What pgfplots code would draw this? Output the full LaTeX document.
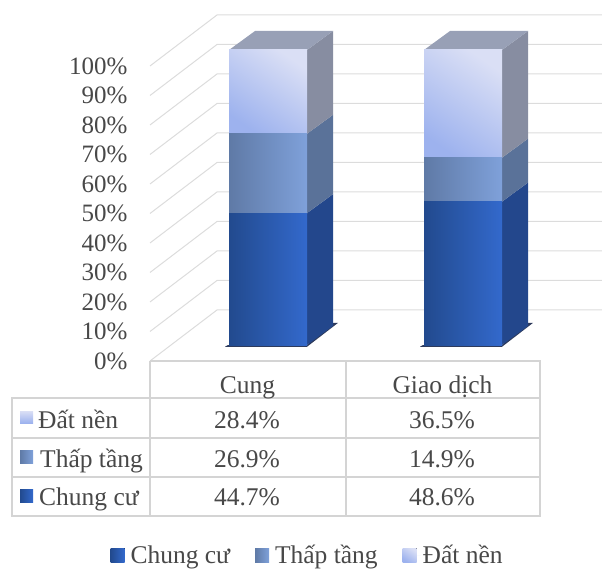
\documentclass[border=0pt]{standalone}
\usepackage{fontspec}
\setmainfont{Liberation Serif}
\usepackage{pgfplots}
\pgfplotsset{compat=1.18}

\definecolor{gridc}{HTML}{DCDCDC}
\definecolor{tabc}{HTML}{D4D4D4}
\definecolor{txt}{HTML}{484848}
\definecolor{shadow}{HTML}{2E3B5C}
\definecolor{chungL}{HTML}{224A8E}
\definecolor{chungR}{HTML}{3369CC}
\definecolor{chungS}{HTML}{23478C}
\definecolor{thapL}{HTML}{5F7AA6}
\definecolor{thapR}{HTML}{7FA1DA}
\definecolor{thapS}{HTML}{5A7299}
\definecolor{datB}{HTML}{9DB2EE}
\definecolor{datT}{HTML}{DADFF5}
\definecolor{datS}{HTML}{878DA1}
\definecolor{datTop}{HTML}{98A0B6}

\newcommand{\tabfont}{\fontsize{25.5}{28}\selectfont}

\pgfplotsset{
  page axis/.style={
    at={(0,0)}, anchor=south west,
    scale only axis, width=602pt, height=570pt,
    xmin=0, xmax=602, clip=false,
    axis line style={draw=none}, xtick=\empty, ytick=\empty,
    major tick length=0pt,
  },
  bar axis/.style={page axis, ymin=-76.27, ymax=116.95, ybar stacked, bar width=78},
}
\tikzset{
  chung/.style={draw=none, left color=chungL, right color=chungR},
  thap/.style={draw=none, left color=thapL, right color=thapR},
  dat/.style={draw=none, top color=datT, bottom color=datB, shading angle=-35},
}

\begin{document}
\begin{tikzpicture}
\useasboundingbox (0,0) rectangle (602pt,570pt);

% back and side walls, y is percent on the front edge of the floor
\begin{axis}[page axis, ymin=-70.85, ymax=122.37,
  ytick={0,10,...,100},
  yticklabels={0\%,10\%,20\%,30\%,40\%,50\%,60\%,70\%,80\%,90\%,100\%},
  yticklabel style={anchor=east, xshift=131pt, text=txt, font=\fontsize{25}{28}\selectfont}]
\addplot[gridc, line width=1pt] coordinates {(150,0)(217,17.29)(602,17.29)};
\addplot[gridc, line width=1pt] coordinates {(150,10)(217,27.29)(602,27.29)};
\addplot[gridc, line width=1pt] coordinates {(150,20)(217,37.29)(602,37.29)};
\addplot[gridc, line width=1pt] coordinates {(150,30)(217,47.29)(602,47.29)};
\addplot[gridc, line width=1pt] coordinates {(150,40)(217,57.29)(602,57.29)};
\addplot[gridc, line width=1pt] coordinates {(150,50)(217,67.29)(602,67.29)};
\addplot[gridc, line width=1pt] coordinates {(150,60)(217,77.29)(602,77.29)};
\addplot[gridc, line width=1pt] coordinates {(150,70)(217,87.29)(602,87.29)};
\addplot[gridc, line width=1pt] coordinates {(150,80)(217,97.29)(602,97.29)};
\addplot[gridc, line width=1pt] coordinates {(150,90)(217,107.29)(602,107.29)};
\addplot[gridc, line width=1pt] coordinates {(150,100)(217,117.29)(602,117.29)};
\end{axis}

% bar sides and tops, y is percent on the bar front
\begin{axis}[page axis, ymin=-76.27, ymax=116.95]
\addplot[fill=shadow, draw=none] coordinates {(225,-0.6)(307,-0.6)(338,7.5)(333,7.5)(307,0)(228,0)} -- cycle;
\addplot[fill=shadow, draw=none] coordinates {(420,-0.6)(502,-0.6)(533,7.5)(528,7.5)(502,0)(423,0)} -- cycle;
% Cung
\addplot[fill=chungS, draw=none] coordinates {(307,0)(333,6.44)(333,51.14)(307,44.7)} -- cycle;
\addplot[fill=thapS, draw=none] coordinates {(307,44.7)(333,51.14)(333,78.04)(307,71.6)} -- cycle;
\addplot[fill=datS, draw=none] coordinates {(307,71.6)(333,78.04)(333,106.44)(307,100)} -- cycle;
\addplot[fill=datTop, draw=none] coordinates {(229,100)(307,100)(333,106.44)(255,106.44)} -- cycle;
% Giao dich
\addplot[fill=chungS, draw=none] coordinates {(502,0)(528,6.44)(528,55.04)(502,48.6)} -- cycle;
\addplot[fill=thapS, draw=none] coordinates {(502,48.6)(528,55.04)(528,69.94)(502,63.5)} -- cycle;
\addplot[fill=datS, draw=none] coordinates {(502,63.5)(528,69.94)(528,106.44)(502,100)} -- cycle;
\addplot[fill=datTop, draw=none] coordinates {(424,100)(502,100)(528,106.44)(450,106.44)} -- cycle;
\end{axis}

% bar fronts, one axis per bar so that each bar gets its own gradient
\begin{axis}[bar axis]
\addplot[chung] coordinates {(268,44.7)};
\addplot[thap] coordinates {(268,26.9)};
\addplot[dat] coordinates {(268,28.4)};
\end{axis}

\begin{axis}[bar axis,
  legend columns=-1,
  legend style={at={(0.511,0.026)}, anchor=center, draw=none, fill=none,
    text=txt, font=\tabfont,
    /tikz/every even column/.append style={column sep=23pt}},
  legend image code/.code={\path (0pt,0pt) -- (18pt,0pt); \fill[#1] (0pt,-7pt) rectangle (14pt,7pt);}]
\addplot[chung] coordinates {(463,48.6)};
\addplot[thap] coordinates {(463,14.9)};
\addplot[dat] coordinates {(463,36.5)};
\legend{Chung cư,Thấp tầng,Đất nền}
\end{axis}

% data table, in page pixels
\begin{axis}[page axis, ymin=0, ymax=570, y dir=reverse]
\addplot[tabc, line width=1.5pt] coordinates {(150,361)(540,361)(540,516)(12,516)(12,398)(540,398)};
\addplot[tabc, line width=1.5pt] coordinates {(12,438)(540,438)};
\addplot[tabc, line width=1.5pt] coordinates {(12,477)(540,477)};
\addplot[tabc, line width=1.5pt] coordinates {(150,361)(150,516)};
\addplot[tabc, line width=1.5pt] coordinates {(346,361)(346,516)};
\fill[top color=datT, bottom color=datB] (axis cs:20,411) rectangle (axis cs:33,423);
\fill[thap] (axis cs:20,450) rectangle (axis cs:33,463);
\fill[chung] (axis cs:20,489) rectangle (axis cs:33,502);
\begin{scope}[every node/.style={text=txt, inner sep=0pt, font=\tabfont}]
\node[anchor=base] at (axis cs:247.5,393) {Cung};
\node[anchor=base] at (axis cs:442.5,393) {Giao dịch};
\node[anchor=base west] at (axis cs:38,428) {Đất nền};
\node[anchor=base west] at (axis cs:40,467) {Thấp tầng};
\node[anchor=base west] at (axis cs:39,505) {Chung cư};
\node[anchor=base] at (axis cs:247,428) {28.4\%};
\node[anchor=base] at (axis cs:442,428) {36.5\%};
\node[anchor=base] at (axis cs:247,467) {26.9\%};
\node[anchor=base] at (axis cs:442,467) {14.9\%};
\node[anchor=base] at (axis cs:247,505) {44.7\%};
\node[anchor=base] at (axis cs:442,505) {48.6\%};
\end{scope}
\end{axis}
\end{tikzpicture}
\end{document}
